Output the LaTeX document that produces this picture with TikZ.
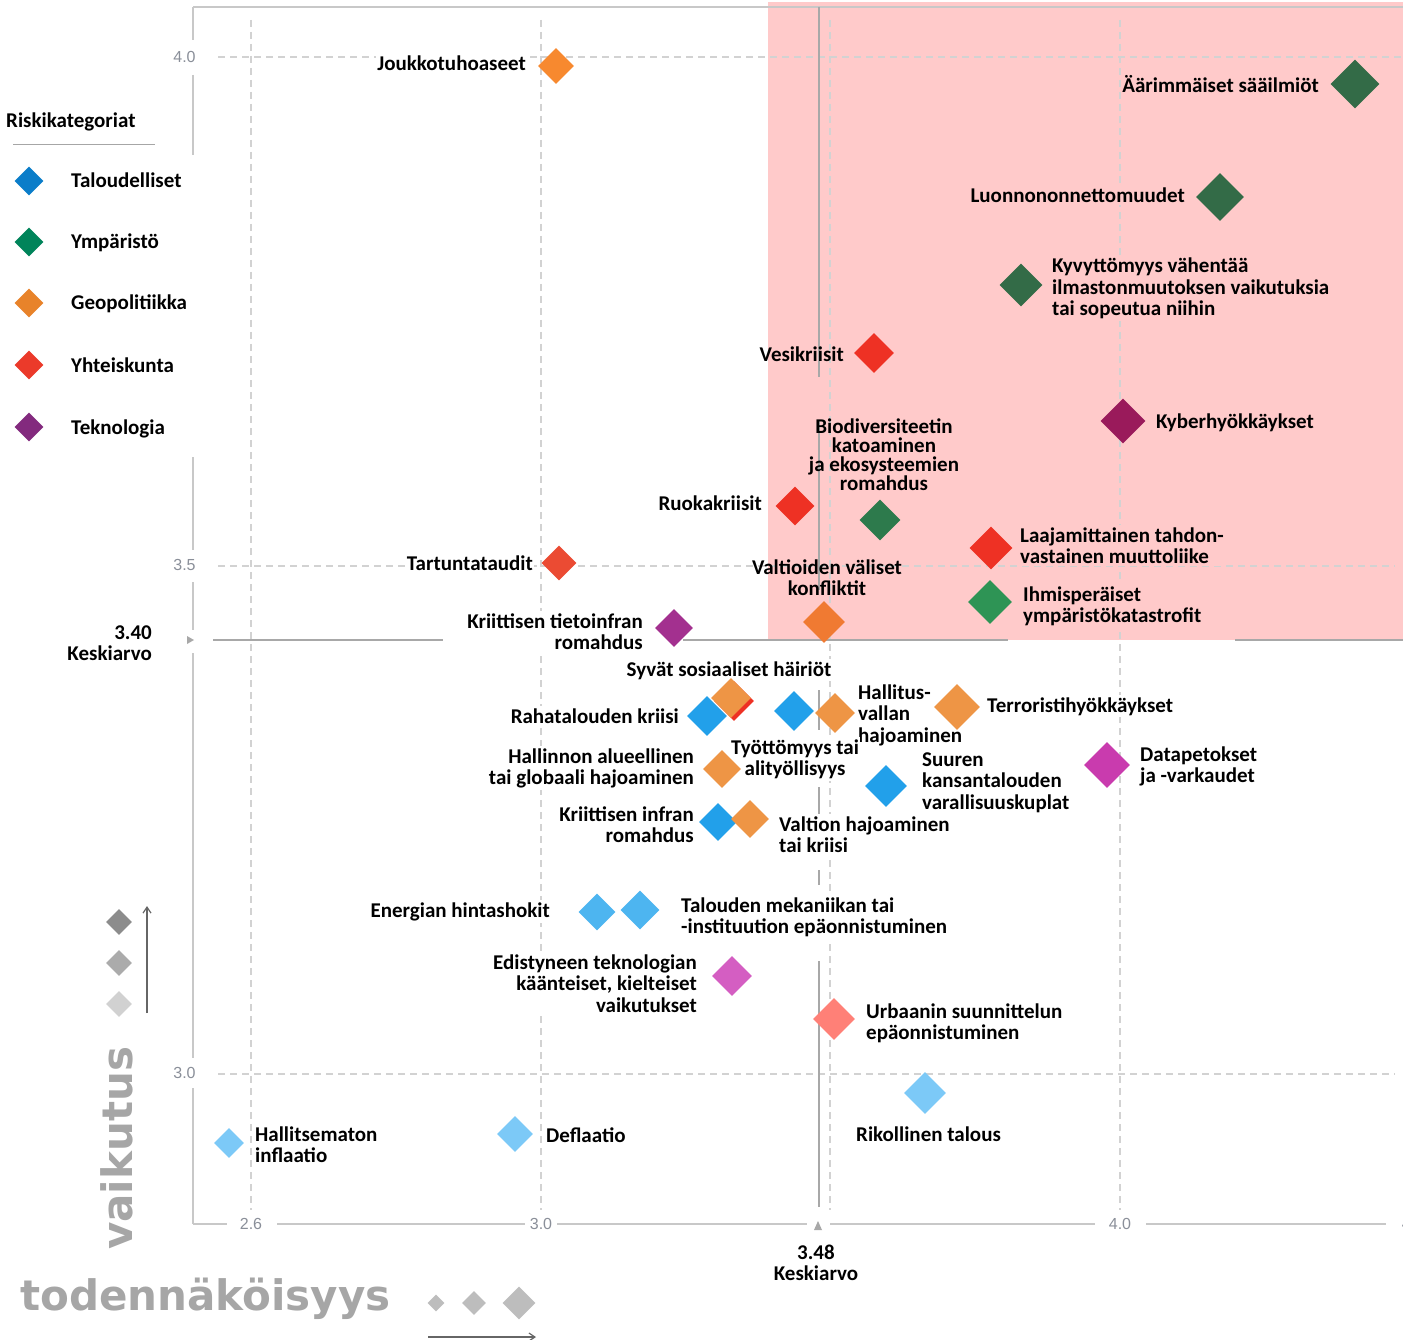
\documentclass[tikz,border=0pt]{standalone}
\usepackage{fontspec}
\setmainfont{Carlito}
\newfontfamily\tickfont{Liberation Sans}
\newfontfamily\bigfont{DejaVu Sans}
\usetikzlibrary{shapes.geometric,arrows.meta}
\definecolor{pinkbg}{HTML}{FFCACA}
\definecolor{axgray}{HTML}{C8C8C8}
\definecolor{meangray}{HTML}{A8A8A8}
\definecolor{gridgray}{HTML}{D2D2D2}
\definecolor{tickgray}{HTML}{8A8F99}
\definecolor{bigtxt}{HTML}{A6A6A6}
\definecolor{cTal}{HTML}{0B7DC9}
\definecolor{cYmp}{HTML}{00845A}
\definecolor{cGeo}{HTML}{E8832A}
\definecolor{cYht}{HTML}{EB3A2A}
\definecolor{cTek}{HTML}{832A7E}
\definecolor{dkgreen}{HTML}{336B47}
\definecolor{mdgreen}{HTML}{2D7A4C}
\definecolor{ltgreen}{HTML}{2E9455}
\definecolor{red1}{HTML}{EE3124}
\definecolor{red2}{HTML}{EB4B33}
\definecolor{or1}{HTML}{F7892F}
\definecolor{or2}{HTML}{F07A32}
\definecolor{or3}{HTML}{EE9545}
\definecolor{blue1}{HTML}{22A0EA}
\definecolor{blue2}{HTML}{4DB5F0}
\definecolor{blue3}{HTML}{7CC9F7}
\definecolor{kyber}{HTML}{9A1A5B}
\definecolor{purp}{HTML}{A3308F}
\definecolor{magenta1}{HTML}{C93BAE}
\definecolor{magenta2}{HTML}{D45EC2}
\definecolor{salmon}{HTML}{FF8077}
\begin{document}
\begin{tikzpicture}[x=1pt,y=-1pt,
  lbl/.style={font=\fontsize{21}{21.5}\selectfont\bfseries, inner xsep=1pt, inner ysep=2pt, text=black},
  lblL/.style={lbl, align=left, anchor=base west},
  lblR/.style={lbl, align=right, anchor=base east},
  lblC/.style={lbl, align=center, anchor=base},
  onw/.style={fill=white},
  onp/.style={fill=pinkbg},
  mk/.style={diamond, aspect=1, inner sep=0pt, minimum size=#1, draw=none},
  axisln/.style={draw=axgray, line width=1.6pt},
  gridln/.style={draw=gridgray, line width=1.3pt, dash pattern=on 7pt off 5pt},
  meanln/.style={draw=meangray, line width=1.8pt},
  tick/.style={font=\tickfont\fontsize{16}{16}\selectfont, text=tickgray, inner sep=0pt},
  big/.style={font=\bigfont\bfseries\fontsize{42}{42}\selectfont, text=bigtxt, inner sep=0pt},
  keyarrow/.style={draw=gray!80!black, line width=1.2pt, -{Straight Barb[length=6pt,width=8pt]}}
]
\useasboundingbox (0,0) rectangle (1403,1340);
\fill[white] (0,0) rectangle (1403,1340);
\fill[pinkbg] (768,2) rectangle (1403,640);

% grid
\draw[gridln] (251,20) -- (251,1210);
\draw[gridln] (541,20) -- (541,1210);
\draw[gridln] (830,20) -- (830,1210);
\draw[gridln] (1120,20) -- (1120,1210);
\draw[gridln] (218,57) -- (1403,57);
\draw[gridln] (218,566) -- (1395,566);
\draw[gridln] (218,1074) -- (1395,1074);

% frame / axes
\draw[axisln] (193,7) -- (1403,7);
\draw[axisln] (193,7) -- (193,40);
\draw[axisln] (193,75) -- (193,155);
\draw[axisln] (193,457) -- (193,550);
\draw[axisln] (193,582) -- (193,630);
\draw[axisln] (193,653) -- (193,1058);
\draw[axisln] (193,1088) -- (193,1224);
\draw[axisln] (193,1224) -- (227,1224);
\draw[axisln] (277,1224) -- (525,1224);
\draw[axisln] (557,1224) -- (807,1224);
\draw[axisln] (830,1224) -- (1095,1224);
\draw[axisln] (1146,1224) -- (1386,1224);

% mean lines
\draw[meanln] (213,640) -- (443,640);
\draw[meanln] (683,640) -- (1008,640);
\draw[meanln] (1235,640) -- (1403,640);
\draw[meanln] (819,7) -- (819,377);
\draw[meanln] (819,420) -- (819,590);
\draw[meanln] (819,690) -- (819,730);
\draw[meanln] (819,787) -- (819,830);
\draw[meanln] (819,870) -- (819,885);
\draw[meanln] (819,961) -- (819,1207);
\fill[meangray] (187,636) -- (194,640) -- (187,644) -- cycle;
\fill[meangray] (814,1230) -- (818,1221) -- (822,1230) -- cycle;

% tick labels
\node[tick] (t40) at (184.5,57) {4.0};
\node[tick] (t35) at (184.5,565) {3.5};
\node[tick] (t30) at (184.5,1073) {3.0};
\node[tick] (b26) at (251,1224) {2.6};
\node[tick] (b30) at (541,1224) {3.0};
\node[tick] (b40) at (1120,1224) {4.0};
\node[tick] (b45) at (1413,1224) {4.5};

% legend
\node[lblL] (legtitle) at (5,128) {Riskikategoriat};
\draw[draw=gray!70, line width=1pt] (13,145) -- (155,145);
\node[mk=29, fill=cTal] (lg1) at (29,181) {};
\node[mk=29, fill=cYmp] (lg2) at (29,242) {};
\node[mk=29, fill=cGeo] (lg3) at (29,303) {};
\node[mk=29, fill=cYht] (lg4) at (29,365) {};
\node[mk=29, fill=cTek] (lg5) at (29,427) {};
\node[lblL] (lt1) at (70,188) {Taloudelliset};
\node[lblL] (lt2) at (70,249) {Ympäristö};
\node[lblL] (lt3) at (70,310) {Geopolitiikka};
\node[lblL] (lt4) at (70,372) {Yhteiskunta};
\node[lblL] (lt5) at (70,434) {Teknologia};

% labels (base anchor = baseline of the last line)
\node[lblR, onw] (l01) at (527,71) {Joukkotuhoaseet};
\node[lblR, onp] (l02) at (1320,93) {Äärimmäiset sääilmiöt};
\node[lblR, onp] (l03) at (1186,203) {Luonnononnettomuudet};
\node[lblL, onp] (l04) at (1051,316) {Kyvyttömyys vähentää\\ilmastonmuutoksen vaikutuksia\\tai sopeutua niihin};
\node[lblR] (l05) at (845,361) {Vesikriisit};
\node[lblL, onp] (l06) at (1155,428) {Kyberhyökkäykset};
\node[lblC, font=\fontsize{21}{19}\selectfont\bfseries] (l07) at (884,490) {Biodiversiteetin\\katoaminen\\ja ekosysteemien\\romahdus};
\node[lblR, onw] (l08) at (763,510) {Ruokakriisit};
\node[lblL, onp] (l09) at (1019,563.5) {Laajamittainen tahdon-\\vastainen muuttoliike};
\node[lblR, onw] (l10) at (534,570) {Tartuntataudit};
\node[lblC] (l11) at (827,595.5) {Valtioiden väliset\\konfliktit};
\node[lblL, onp] (l12) at (1022,622.5) {Ihmisperäiset\\ympäristökatastrofit};
\node[lblR, onw] (l13) at (644,649.5) {Kriittisen tietoinfran\\romahdus};
\node[lblR, onw] (l14) at (153,660.5) {3.40\\Keskiarvo};
\node[lblC, onw] (l15) at (729,676) {Syvät sosiaaliset häiriöt};
\node[lblR, onw] (l16) at (680,723) {Rahatalouden kriisi};
\node[lblL, onw] (l22) at (921,809) {Suuren\\kansantalouden\\varallisuuskuplat};
\node[lblL, onw] (l18) at (857,742) {Hallitus-\\vallan\\hajoaminen};
\node[lblL, onw] (l19) at (986,712) {Terroristihyökkäykset};
\node[lblR, onw] (l20) at (695,784.5) {Hallinnon alueellinen\\tai globaali hajoaminen};
\node[lblC, onw] (l21) at (795,775.5) {Työttömyys tai\\alityöllisyys};
\node[lblL, onw] (l23) at (1139,782.5) {Datapetokset\\ja -varkaudet};
\node[lblR, onw] (l24) at (695,842.5) {Kriittisen infran\\romahdus};
\node[lblL, onw] (l25) at (778,852.5) {Valtion hajoaminen\\tai kriisi};
\node[lblR, onw] (l26) at (551,917) {Energian hintashokit};
\node[lblL, onw] (l27) at (680,933.5) {Talouden mekaniikan tai\\-instituution epäonnistuminen};
\node[lblR, onw] (l28) at (698,1012) {Edistyneen teknologian\\käänteiset, kielteiset\\vaikutukset};
\node[lblL, onw] (l29) at (865,1039.5) {Urbaanin suunnittelun\\epäonnistuminen};
\node[lblL, onw] (l30) at (855,1141) {Rikollinen talous};
\node[lblL, onw] (l31) at (254,1162.5) {Hallitsematon\\inflaatio};
\node[lblL, onw] (l32) at (545,1142) {Deflaatio};
\node[lblC, onw] (l33) at (816,1280.5) {3.48\\Keskiarvo};

% data diamonds
\node[mk=36, fill=or1] (d01) at (556,66) {};
\node[mk=49, fill=dkgreen] (d02) at (1355,84) {};
\node[mk=48, fill=dkgreen] (d03) at (1220,197) {};
\node[mk=43, fill=dkgreen] (d04) at (1021,285) {};
\node[mk=40, fill=red1] (d05) at (874,353) {};
\node[mk=45, fill=kyber] (d06) at (1123,421) {};
\node[mk=41, fill=mdgreen] (d07) at (880,520) {};
\node[mk=39, fill=red1] (d08) at (795,506) {};
\node[mk=43, fill=red1] (d09) at (991,548) {};
\node[mk=35, fill=red2] (d10) at (559,563) {};
\node[mk=42, fill=or2] (d11) at (824,622) {};
\node[mk=44, fill=ltgreen] (d12) at (990,602) {};
\node[mk=38, fill=purp] (d13) at (674,628) {};
\node[mk=40, fill=red1] (d15s) at (734,701) {};
\node[mk=40, fill=or3] (d15) at (731,698) {};
\node[mk=40, fill=blue1] (d16) at (707,716) {};
\node[mk=40, fill=blue1] (d17) at (794,711) {};
\node[mk=40, fill=or3] (d18) at (835,713) {};
\node[mk=46, fill=or3] (d19) at (957,707) {};
\node[mk=38, fill=or3] (d20) at (722,769) {};
\node[mk=42, fill=blue1] (d22) at (886,786) {};
\node[mk=46, fill=magenta1] (d23) at (1107,765) {};
\node[mk=38, fill=blue1] (d24) at (718,822) {};
\node[mk=38, fill=or3] (d25) at (750,819) {};
\node[mk=37, fill=blue2] (d26) at (597,912) {};
\node[mk=39, fill=blue2] (d27) at (640,910) {};
\node[mk=40, fill=magenta2] (d28) at (732,976) {};
\node[mk=42, fill=salmon] (d29) at (834,1019) {};
\node[mk=42, fill=blue3] (d30) at (925,1093) {};
\node[mk=30, fill=blue3] (d31) at (229,1143) {};
\node[mk=36, fill=blue3] (d32) at (515,1134) {};

% size / axis key
\node[mk=26, fill=black!45] (k1) at (119,922) {};
\node[mk=26, fill=black!33] (k2) at (119,963) {};
\node[mk=26, fill=black!18] (k3) at (119,1004) {};
\coordinate (va0) at (147,1013);
\coordinate (va1) at (147,906);
\draw[keyarrow] (va0) -- (va1);
\node[mk=17, fill=black!26] (h1) at (436,1303) {};
\node[mk=24, fill=black!26] (h2) at (474,1303) {};
\node[mk=33, fill=black!26] (h3) at (519,1303) {};
\coordinate (ha0) at (428,1337);
\coordinate (ha1) at (536,1337);
\draw[keyarrow] (ha0) -- (ha1);
\node[big, rotate=90, anchor=base west] (vaik) at (132,1250) {vaikutus};
\node[big, anchor=base west] (tod) at (20,1310) {todennäköisyys};
\end{tikzpicture}
\end{document}
